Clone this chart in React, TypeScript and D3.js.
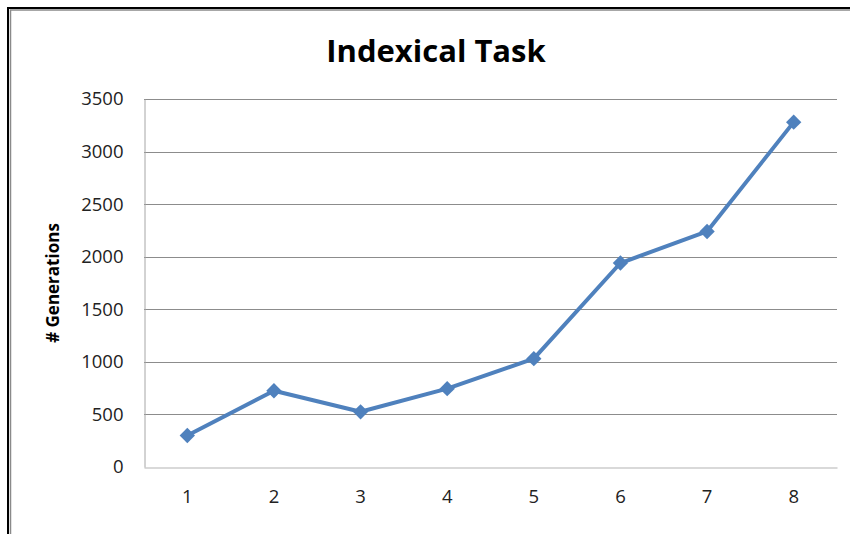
import React, { useEffect, useRef } from "react";
import * as d3 from "d3";

const categories = ["1", "2", "3", "4", "5", "6", "7", "8"];
const generations = [300, 725, 525, 745, 1030, 1940, 2240, 3280];
const yTicks = [0, 500, 1000, 1500, 2000, 2500, 3000, 3500];

const title = "Indexical Task";
const yTitle = "# Generations";

export default function App() {
  const ref = useRef<SVGSVGElement>(null);

  useEffect(() => {
    const width = 850;
    const height = 534;
    const margin = { top: 99, right: 13, bottom: 67, left: 144 };
    const font = "'Open Sans', 'Noto Sans', sans-serif";

    const svg = d3.select(ref.current);
    svg.selectAll("*").remove();

    svg.append("rect").attr("width", width).attr("height", height).attr("fill", "#fff");

    // frame (runs off the right/bottom edge like the screenshot)
    svg
      .append("rect")
      .attr("x", 8)
      .attr("y", 8)
      .attr("width", width + 20)
      .attr("height", height + 20)
      .attr("fill", "none")
      .attr("stroke", "#000")
      .attr("stroke-width", 2);
    svg
      .append("rect")
      .attr("x", 10.5)
      .attr("y", 10)
      .attr("width", width + 20)
      .attr("height", height + 20)
      .attr("fill", "none")
      .attr("stroke", "#8a8a8a")
      .attr("stroke-width", 1.5);

    const x = d3
      .scaleBand()
      .domain(categories)
      .range([margin.left, width - margin.right]);

    const y = d3
      .scaleLinear()
      .domain([0, 3500])
      .range([height - margin.bottom, margin.top]);

    // gridlines
    svg
      .append("g")
      .selectAll("line")
      .data(yTicks.filter((d) => d > 0))
      .enter()
      .append("line")
      .attr("x1", margin.left)
      .attr("x2", width - margin.right)
      .attr("y1", (d) => Math.round(y(d)) + 0.5)
      .attr("y2", (d) => Math.round(y(d)) + 0.5)
      .attr("stroke", "#8c8c8c")
      .attr("stroke-width", 1);

    // y axis
    const yAxis = svg
      .append("g")
      .attr("transform", `translate(${margin.left + 0.5},0)`)
      .call(
        d3
          .axisLeft(y)
          .tickValues(yTicks)
          .tickFormat(d3.format("d"))
          .tickSize(0)
          .tickPadding(21)
      );
    yAxis.select(".domain").attr("stroke", "#a6a6a6");
    yAxis
      .selectAll("text")
      .style("font-family", font)
      .style("font-size", "18.5px")
      .attr("fill", "#222");

    // x axis
    const xAxis = svg
      .append("g")
      .attr("transform", `translate(0,${Math.round(y(0)) + 0.5})`)
      .call(d3.axisBottom(x).tickSize(0).tickPadding(22));
    xAxis.select(".domain").attr("stroke", "#b3b3b3");
    xAxis
      .selectAll("text")
      .style("font-family", font)
      .style("font-size", "18.5px")
      .attr("fill", "#222");

    const cx = (d: string) => (x(d) as number) + x.bandwidth() / 2;

    const line = d3
      .line<number>()
      .x((d, i) => cx(categories[i]))
      .y((d) => y(d));

    svg
      .append("path")
      .datum(generations)
      .attr("d", line)
      .attr("fill", "none")
      .attr("stroke", "#4f81bd")
      .attr("stroke-width", 4)
      .attr("stroke-linejoin", "round");

    svg
      .append("g")
      .selectAll("path")
      .data(generations)
      .enter()
      .append("path")
      .attr("d", d3.symbol(d3.symbolDiamond2, 150)())
      .attr("transform", (d, i) => `translate(${cx(categories[i])},${y(d)})`)
      .attr("fill", "#4f81bd");

    svg
      .append("text")
      .attr("x", 436)
      .attr("y", 62)
      .attr("text-anchor", "middle")
      .style("font-family", font)
      .style("font-size", "31px")
      .style("font-weight", "bold")
      .attr("fill", "#000")
      .text(title);

    svg
      .append("text")
      .attr("transform", `translate(59,${(margin.top + height - margin.bottom) / 2}) rotate(-90)`)
      .attr("text-anchor", "middle")
      .style("font-family", font)
      .style("font-size", "17px")
      .style("font-weight", "bold")
      .attr("fill", "#000")
      .text(yTitle);
  }, []);

  return (
    <svg
      ref={ref}
      width={850}
      height={534}
      style={{ position: "absolute", left: 0, top: 0 }}
    ></svg>
  );
}
